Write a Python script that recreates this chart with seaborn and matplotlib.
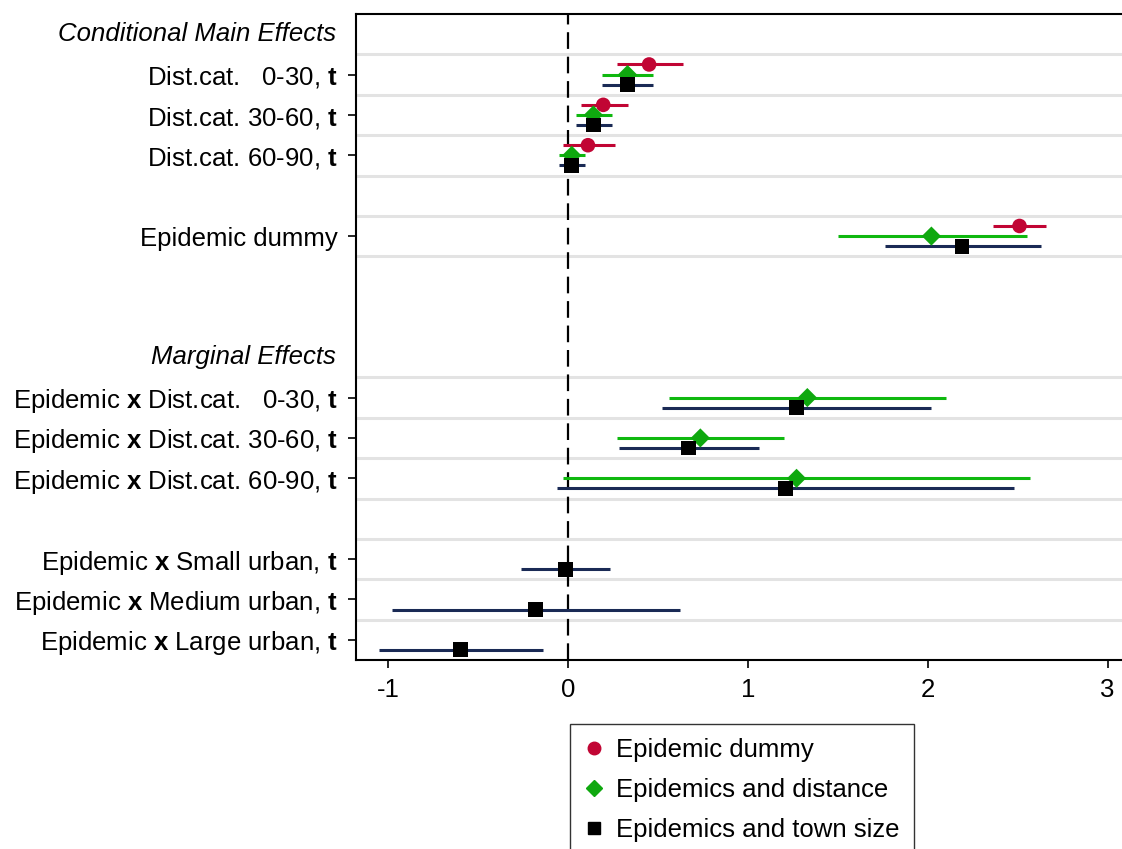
import numpy as np
import pandas as pd
import matplotlib
matplotlib.use("Agg")
import matplotlib.pyplot as plt
import seaborn as sns

# coefficient rows, top to bottom
terms = ["Dist.cat.   0-30, $\\mathbf{t}$",
         "Dist.cat. 30-60, $\\mathbf{t}$",
         "Dist.cat. 60-90, $\\mathbf{t}$",
         "Epidemic dummy",
         "Epidemic $\\mathbf{x}$ Dist.cat.   0-30, $\\mathbf{t}$",
         "Epidemic $\\mathbf{x}$ Dist.cat. 30-60, $\\mathbf{t}$",
         "Epidemic $\\mathbf{x}$ Dist.cat. 60-90, $\\mathbf{t}$",
         "Epidemic $\\mathbf{x}$ Small urban, $\\mathbf{t}$",
         "Epidemic $\\mathbf{x}$ Medium urban, $\\mathbf{t}$",
         "Epidemic $\\mathbf{x}$ Large urban, $\\mathbf{t}$"]
headers = ["Conditional Main Effects", "Marginal Effects"]

nan = np.nan
dummy_coef = [0.45, 0.195, 0.11, 2.51, nan, nan, nan, nan, nan, nan]
dummy_lo = [0.27, 0.07, -0.03, 2.36, nan, nan, nan, nan, nan, nan]
dummy_hi = [0.64, 0.33, 0.26, 2.66, nan, nan, nan, nan, nan, nan]

dist_coef = [0.33, 0.14, 0.02, 2.02, 1.33, 0.735, 1.27, nan, nan, nan]
dist_lo = [0.19, 0.045, -0.05, 1.50, 0.56, 0.27, -0.03, nan, nan, nan]
dist_hi = [0.47, 0.245, 0.095, 2.55, 2.10, 1.20, 2.57, nan, nan, nan]

town_coef = [0.33, 0.14, 0.02, 2.19, 1.27, 0.67, 1.21, -0.015, -0.18, -0.60]
town_lo = [0.19, 0.045, -0.05, 1.76, 0.52, 0.28, -0.06, -0.26, -0.98, -1.05]
town_hi = [0.47, 0.245, 0.095, 2.63, 2.02, 1.06, 2.48, 0.23, 0.62, -0.14]

models = ["Epidemic dummy", "Epidemics and distance", "Epidemics and town size"]

# layout
row_pos = [1, 2, 3, 5, 9, 10, 11, 13, 14, 15]
header_pos = [0, 8]
offsets = {models[0]: -0.25, models[1]: 0.0, models[2]: 0.25}
marker_col = {models[0]: "#C10534", models[1]: "#0FA80F", models[2]: "black"}
line_col = {models[0]: "#C10534", models[1]: "#0FB80F", models[2]: "#1A2A55"}
marker_shape = {models[0]: "o", models[1]: "D", models[2]: "s"}
marker_size = {models[0]: 110, models[1]: 95, models[2]: 115}

rows = []
for m, c, lo, hi in zip(models, [dummy_coef, dist_coef, town_coef],
                        [dummy_lo, dist_lo, town_lo], [dummy_hi, dist_hi, town_hi]):
    for i, t in enumerate(terms):
        rows.append({"model": m, "term": t, "coef": c[i], "lo": lo[i], "hi": hi[i],
                     "y": row_pos[i] + offsets[m]})
df = pd.DataFrame(rows).dropna()

sns.set_style("ticks")
plt.rcParams['font.family'] = ['Liberation Sans', 'DejaVu Sans']
plt.rcParams['mathtext.fontset'] = 'custom'
plt.rcParams['mathtext.rm'] = 'Liberation Sans'
plt.rcParams['mathtext.bf'] = 'Liberation Sans:bold'
plt.rcParams['mathtext.it'] = 'Liberation Sans:italic'
plt.rcParams['axes.unicode_minus'] = False
plt.rcParams['text.color'] = 'black'
plt.rcParams['xtick.color'] = 'black'
plt.rcParams['ytick.color'] = 'black'

fs = 18.5

fig = plt.figure(figsize=(11.22, 8.49), dpi=100)
ax = fig.add_axes([356 / 1122, (849 - 660) / 849, 766 / 1122, 646 / 849])

# light separators around each coefficient row
grid = sorted(set([p - 0.5 for p in row_pos] + [p + 0.5 for p in row_pos]))
for g in grid:
    ax.axhline(g, color="#E3E3E3", lw=2.2, zorder=0)

ax.axvline(0, color="black", lw=1.6, ls=(0, (7.5, 3.5)), zorder=1)

for m in models:
    d = df[df["model"] == m]
    ax.hlines(d["y"], d["lo"], d["hi"], color=line_col[m], lw=2.2, zorder=2)

sns.scatterplot(data=df, x="coef", y="y", hue="model", style="model", size="model",
                palette=marker_col, markers=marker_shape, sizes=marker_size,
                hue_order=models, style_order=models, size_order=models,
                edgecolor="none", linewidth=0, legend=False, ax=ax, zorder=3)

ax.set_xlim(-1.18, 3.08)
ax.set_ylim(15.5, -0.5)
ax.set_xticks([-1, 0, 1, 2, 3])
ax.set_yticks(row_pos)
ax.set_yticklabels(terms)
ax.set_xlabel("")
ax.set_ylabel("")
ax.tick_params(axis="both", labelsize=fs, length=6, width=1.2, color="black",
               labelcolor="black", direction="out")
ax.tick_params(axis="y", pad=7)
ax.tick_params(axis="x", pad=7)
for s in ["left", "bottom", "top"]:
    ax.spines[s].set_color("black")
    ax.spines[s].set_linewidth(1.5)
ax.spines["right"].set_visible(False)

for h, p in zip(headers, header_pos):
    ax.text(-0.026, p, h, transform=ax.get_yaxis_transform(), ha="right", va="center",
            fontsize=fs, style="italic")

handles = [plt.Line2D([], [], ls="none", marker=marker_shape[m], color=marker_col[m],
                      markersize=9 if m != models[1] else 8.5) for m in models]
leg = fig.legend(handles, models, loc="upper left", bbox_to_anchor=(0.508, 0.147),
                 fontsize=fs, frameon=True, fancybox=False, edgecolor="black",
                 labelspacing=0.62, handletextpad=0.45, handlelength=0.8,
                 borderpad=0.55, borderaxespad=0)
leg.get_frame().set_linewidth(1.0)

fig.savefig("out.png", dpi=100)
